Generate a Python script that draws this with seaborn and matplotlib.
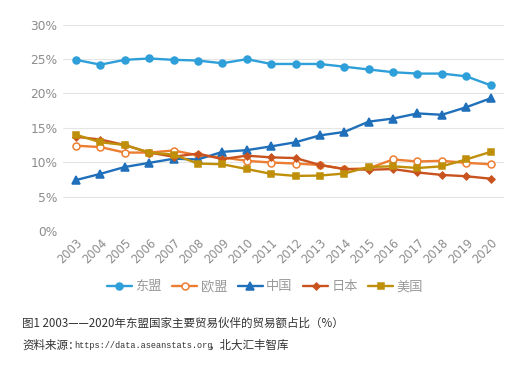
import numpy as np
import pandas as pd
import matplotlib
matplotlib.use("Agg")
import matplotlib.pyplot as plt
import seaborn as sns

# 数据（读自原图，单位：%）
years = list(range(2003, 2021))
asean = [24.9, 24.2, 24.9, 25.1, 24.9, 24.8, 24.4, 25.0, 24.3, 24.3, 24.3, 23.9, 23.5, 23.1, 22.9, 22.9, 22.5, 21.2]
eu = [12.4, 12.2, 11.4, 11.4, 11.7, 11.0, 10.7, 10.2, 9.95, 9.8, 9.6, 9.0, 9.1, 10.4, 10.1, 10.2, 9.9, 9.7]
china = [7.4, 8.3, 9.3, 9.9, 10.5, 10.4, 11.5, 11.75, 12.3, 12.9, 13.9, 14.4, 15.9, 16.35, 17.1, 16.9, 18.0, 19.3]
japan = [13.7, 13.3, 12.5, 11.4, 10.8, 11.25, 10.45, 10.95, 10.7, 10.6, 9.6, 9.0, 8.9, 9.0, 8.5, 8.15, 7.95, 7.6]
usa = [14.0, 12.9, 12.5, 11.4, 11.1, 9.8, 9.7, 9.0, 8.3, 8.0, 8.05, 8.35, 9.3, 9.4, 9.15, 9.4, 10.4, 11.5]

series_names = ["东盟", "欧盟", "中国", "日本", "美国"]
series_values = [asean, eu, china, japan, usa]

colors = ["#2E9FD9", "#ED7D31", "#1F6FBA", "#C9531E", "#BF8F0A"]
markers = ["o", "o", "^", "D", "s"]
msizes = [5, 5, 5.5, 3.5, 5]

sns.set_theme(style="white")
plt.rcParams["font.family"] = ["Noto Sans CJK SC", "DejaVu Sans"]
plt.rcParams["axes.unicode_minus"] = False

fig = plt.figure(figsize=(5.30, 3.76), dpi=100)
ax = fig.add_axes([0.119, 0.386, 0.832, 0.548])

xpos = np.arange(len(years))
for name, vals, c, m, ms in zip(series_names, series_values, colors, markers, msizes):
    df = pd.DataFrame({"x": xpos, "y": np.array(vals) / 100})
    face = "white" if name == "欧盟" else c
    sns.lineplot(data=df, x="x", y="y", ax=ax, color=c, linewidth=1.7,
                 marker=m, markersize=ms, markerfacecolor=face,
                 markeredgecolor=c, markeredgewidth=1.1, label=name)

ax.set_xlim(-0.53, len(years) - 1 + 0.55)
ax.set_ylim(0, 0.30)
ax.set_yticks(np.arange(0, 0.31, 0.05))
ax.set_yticklabels([f"{int(round(v * 100))}%" for v in np.arange(0, 0.31, 0.05)],
                   color="#8C8C8C", fontsize=8.8, family=["DejaVu Sans"])
ax.set_xticks(xpos)
ax.set_xticklabels([str(y) for y in years], rotation=45, ha="right",
                   rotation_mode="anchor", color="#8C8C8C", fontsize=8.3,
                   family=["DejaVu Sans"])
ax.tick_params(axis="both", length=0, pad=4)
ax.set_xlabel("")
ax.set_ylabel("")
ax.grid(axis="y", color="#E5E5E5", linewidth=0.8)
for s in ax.spines.values():
    s.set_visible(False)

leg = ax.legend(loc="center", bbox_to_anchor=(0.5, 0.237), bbox_transform=fig.transFigure,
                ncol=5, frameon=False, fontsize=9.5, handlelength=1.9,
                columnspacing=0.8, handletextpad=0.25)
for t in leg.get_texts():
    t.set_color("#9A9A9A")

# 图注
fig.text(22 / 530, 1 - 323 / 376, "图1 2003——2020年东盟国家主要贸易伙伴的贸易额占比（%）",
         fontsize=8.3, color="#333333", va="center", ha="left",
         family=["Noto Sans CJK SC", "DejaVu Sans"])
y2 = 1 - 345 / 376
fig.text(22 / 530, y2, "资料来源：", fontsize=8.3, color="#333333", va="center", ha="left",
         family=["Noto Sans CJK SC"])
fig.text(74 / 530, y2, "https://data.aseanstats.org", fontsize=6.2, color="#333333",
         va="center", ha="left", family=["Liberation Mono", "DejaVu Sans Mono"])
fig.text(208 / 530, y2, "，北大汇丰智库", fontsize=8.3, color="#333333", va="center", ha="left",
         family=["Noto Sans CJK SC"])

fig.savefig("out.png", dpi=100)
